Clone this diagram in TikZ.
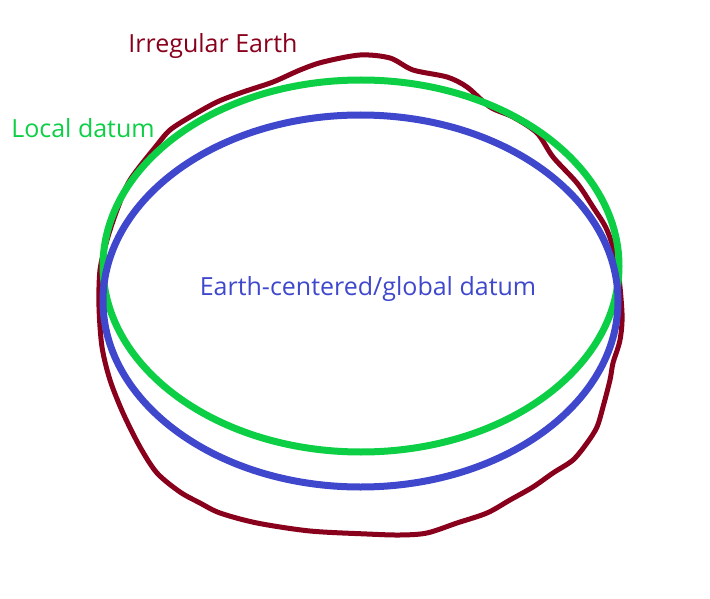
\documentclass[tikz,border=0pt]{standalone}
\usepackage{fontspec}
\setmainfont{Open Sans}
\usetikzlibrary{shapes.geometric}
\definecolor{earthred}{RGB}{136,0,27}
\definecolor{localgreen}{RGB}{13,207,70}
\definecolor{globalblue}{RGB}{63,72,204}
\begin{document}
\begin{tikzpicture}[x=1pt,y=-1pt,
  lbl/.style={font=\fontsize{25}{30}\selectfont, inner sep=0pt},
  curve/.style={line width=#1, line join=round, line cap=round}]
\useasboundingbox (0,0) rectangle (710,599);
% irregular earth
\draw[curve=5, earthred] plot[smooth cycle, tension=0.5] coordinates {
 (360,55) (390,58) (413,70) (447,77) (467,87) (490,107) (513,117) (537,133)
 (553,157) (577,183) (593,207) (607,230) (617,263) (622,313) (620,340)
 (613,363) (610,380) (603,407) (597,427) (587,443) (573,460) (553,473)
 (533,487) (510,500) (487,513) (457,523) (427,533) (400,535) (367,534)
 (310,531) (257,523) (220,513) (200,503) (180,492) (157,473) (140,447)
 (123,413) (110,380) (102,347) (99,307) (100,270) (107,240) (117,210)
 (130,180) (157,145) (170,130) (190,117) (217,102) (243,92) (273,82)
 (300,70) (323,62)};
\node[draw=localgreen, line width=7, ellipse, minimum width=516, minimum height=372, inner sep=0] (local) at (361,266) {};
\node[draw=globalblue, line width=7, ellipse, minimum width=515, minimum height=372, inner sep=0] (global) at (360.5,301) {};
\node[lbl, text=earthred] (tearth) at (213,46) {Irregular Earth};
\node[lbl, text=localgreen] (tlocal) at (83,128) {Local datum};
\node[lbl, text=globalblue] (tglobal) at (368,289) {Earth-centered/global datum};
\end{tikzpicture}
\end{document}
